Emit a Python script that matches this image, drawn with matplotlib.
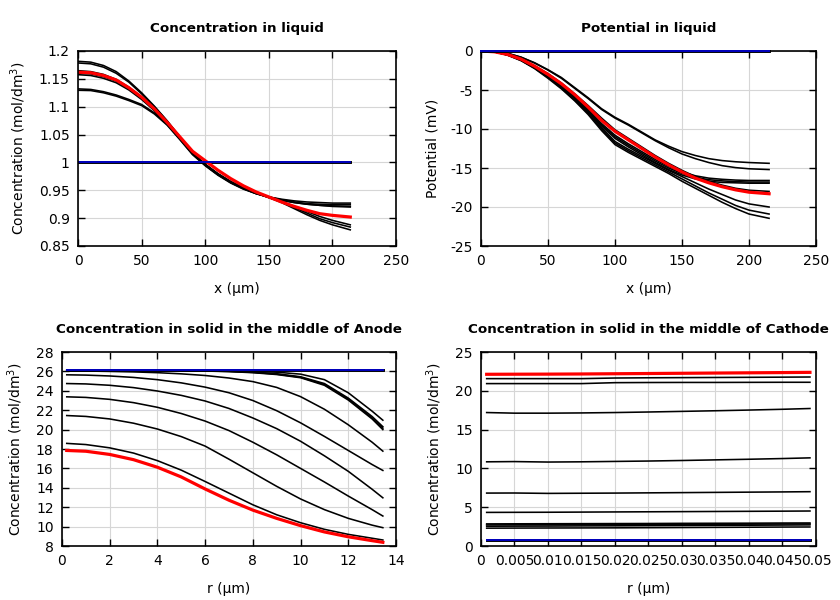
import matplotlib
matplotlib.use("Agg")
import matplotlib.pyplot as plt
from matplotlib.ticker import FuncFormatter, MultipleLocator

plt.rcParams['font.family'] = ['DejaVu Sans']

# ---------------- Concentration in liquid ----------------
x_liq = [0, 10, 20, 30, 40, 50, 60, 70, 80, 90, 100, 110, 120, 130, 140, 150, 160, 170, 180, 190, 200, 214]
x_liq_init = [0, 214]
c_liq_init = [1.0, 1.0]
c_liq_1 = [1.1815, 1.180, 1.174, 1.163, 1.146, 1.125, 1.101, 1.075, 1.046, 1.017, 0.995, 0.978, 0.964, 0.953, 0.944, 0.937, 0.928, 0.917, 0.906, 0.896, 0.888, 0.879]
c_liq_2 = [1.1785, 1.177, 1.171, 1.160, 1.144, 1.123, 1.100, 1.074, 1.046, 1.017, 0.996, 0.979, 0.965, 0.954, 0.945, 0.937, 0.929, 0.919, 0.909, 0.899, 0.892, 0.884]
c_liq_3 = [1.1647, 1.163, 1.158, 1.149, 1.135, 1.117, 1.095, 1.070, 1.043, 1.016, 0.996, 0.979, 0.965, 0.954, 0.945, 0.937, 0.930, 0.921, 0.912, 0.903, 0.896, 0.888]
c_liq_4 = [1.1575, 1.156, 1.151, 1.143, 1.130, 1.113, 1.093, 1.069, 1.043, 1.016, 0.996, 0.979, 0.965, 0.954, 0.945, 0.938, 0.932, 0.928, 0.925, 0.923, 0.922, 0.921]
c_liq_5 = [1.160, 1.159, 1.154, 1.146, 1.132, 1.115, 1.094, 1.070, 1.044, 1.017, 0.997, 0.980, 0.966, 0.955, 0.946, 0.938, 0.932, 0.928, 0.925, 0.923, 0.921, 0.920]
c_liq_6 = [1.132, 1.131, 1.127, 1.121, 1.113, 1.104, 1.089, 1.068, 1.042, 1.015, 0.995, 0.978, 0.964, 0.953, 0.944, 0.938, 0.934, 0.931, 0.929, 0.928, 0.927, 0.927]
c_liq_7 = [1.1295, 1.129, 1.125, 1.119, 1.111, 1.102, 1.087, 1.067, 1.041, 1.014, 0.994, 0.977, 0.963, 0.952, 0.944, 0.938, 0.933, 0.929, 0.926, 0.925, 0.924, 0.924]
c_liq_final = [1.162, 1.161, 1.156, 1.148, 1.134, 1.117, 1.096, 1.072, 1.046, 1.020, 1.003, 0.986, 0.971, 0.958, 0.947, 0.938, 0.929, 0.921, 0.914, 0.908, 0.905, 0.902]

# ---------------- Potential in liquid ----------------
x_pot = [0, 10, 20, 30, 40, 50, 60, 70, 80, 90, 100, 110, 120, 130, 140, 150, 160, 170, 180, 190, 200, 215]
x_pot_init = [0, 215]
p_init = [0.0, 0.0]
p_1 = [0, -0.05, -0.3, -0.8, -1.5, -2.4, -3.4, -4.7, -6.0, -7.4, -8.5, -9.4, -10.4, -11.4, -12.2, -12.9, -13.4, -13.8, -14.05, -14.2, -14.3, -14.4]
p_2 = [0, -0.05, -0.3, -0.8, -1.55, -2.45, -3.5, -4.8, -6.1, -7.5, -8.6, -9.5, -10.5, -11.5, -12.4, -13.2, -13.8, -14.3, -14.7, -14.95, -15.1, -15.2]
p_3 = [0, -0.1, -0.4, -1.0, -1.9, -2.9, -4.1, -5.5, -7.0, -8.6, -10.1, -11.2, -12.3, -13.4, -14.4, -15.3, -16.1, -16.7, -17.2, -17.6, -17.85, -18.0]
p_4 = [0, -0.1, -0.5, -1.1, -2.05, -3.15, -4.4, -5.85, -7.5, -9.3, -10.8, -11.9, -12.9, -13.9, -14.8, -15.5, -16.0, -16.3, -16.45, -16.55, -16.6, -16.6]
p_5 = [0, -0.1, -0.5, -1.15, -2.1, -3.2, -4.5, -5.95, -7.6, -9.45, -11.0, -12.1, -13.1, -14.1, -15.0, -15.7, -16.2, -16.5, -16.65, -16.75, -16.8, -16.8]
p_6 = [0, -0.1, -0.5, -1.15, -2.15, -3.25, -4.55, -6.05, -7.7, -9.6, -11.2, -12.3, -13.3, -14.3, -15.2, -15.9, -16.4, -16.7, -16.85, -16.9, -16.95, -16.95]
p_7 = [0, -0.1, -0.5, -1.2, -2.15, -3.3, -4.6, -6.1, -7.8, -9.8, -11.6, -12.6, -13.5, -14.4, -15.3, -16.1, -16.9, -17.7, -18.4, -19.1, -19.6, -20.0]
p_8 = [0, -0.1, -0.5, -1.2, -2.2, -3.4, -4.75, -6.3, -8.0, -10.0, -11.8, -12.8, -13.7, -14.6, -15.5, -16.4, -17.3, -18.2, -19.0, -19.8, -20.4, -20.9]
p_9 = [0, -0.1, -0.55, -1.25, -2.25, -3.5, -4.85, -6.4, -8.15, -10.2, -12.0, -13.0, -13.9, -14.8, -15.7, -16.7, -17.6, -18.5, -19.4, -20.2, -20.9, -21.45]
p_final = [0, -0.1, -0.45, -1.05, -1.95, -3.0, -4.2, -5.6, -7.2, -8.9, -10.3, -11.4, -12.5, -13.6, -14.6, -15.5, -16.3, -16.9, -17.4, -17.8, -18.1, -18.3]

# ---------------- Solid, anode ----------------
r_an = [0.2, 1, 2, 3, 4, 5, 6, 7, 8, 9, 10, 11, 12, 13, 13.45]
r_an_init = [0.2, 13.45]
a_init = [26.1, 26.1]
a_1 = [26.1, 26.1, 26.1, 26.1, 26.1, 26.1, 26.08, 26.05, 26.0, 25.92, 25.72, 25.15, 23.8, 21.9, 20.97]
a_2 = [26.1, 26.1, 26.1, 26.1, 26.1, 26.1, 26.06, 26.02, 25.93, 25.76, 25.45, 24.75, 23.25, 21.35, 20.3]
a_3 = [26.1, 26.1, 26.1, 26.1, 26.1, 26.09, 26.05, 26.0, 25.9, 25.72, 25.4, 24.65, 23.15, 21.2, 20.15]
a_4 = [26.1, 26.1, 26.1, 26.1, 26.1, 26.08, 26.04, 25.98, 25.87, 25.68, 25.35, 24.57, 23.05, 21.1, 20.0]
a_5 = [26.05, 26.04, 26.0, 25.95, 25.87, 25.75, 25.58, 25.32, 24.95, 24.35, 23.4, 22.1, 20.5, 18.7, 17.78]
a_6 = [25.65, 25.62, 25.53, 25.38, 25.15, 24.82, 24.38, 23.8, 23.0, 21.95, 20.7, 19.3, 17.85, 16.4, 15.79]
a_7 = [24.75, 24.71, 24.57, 24.33, 23.98, 23.53, 22.95, 22.18, 21.2, 20.1, 18.8, 17.3, 15.7, 13.85, 12.97]
a_8 = [23.38, 23.32, 23.12, 22.78, 22.3, 21.66, 20.88, 19.9, 18.7, 17.4, 16.0, 14.6, 13.15, 11.75, 11.09]
a_9 = [21.45, 21.36, 21.1, 20.66, 20.06, 19.28, 18.3, 16.95, 15.55, 14.15, 12.85, 11.75, 10.85, 10.15, 9.89]
a_10 = [18.58, 18.46, 18.12, 17.58, 16.8, 15.82, 14.65, 13.45, 12.25, 11.22, 10.4, 9.72, 9.2, 8.8, 8.62]
a_final = [17.85, 17.77, 17.44, 16.9, 16.12, 15.12, 13.88, 12.72, 11.7, 10.85, 10.1, 9.45, 8.95, 8.55, 8.38]

# ---------------- Solid, cathode ----------------
r_ca = [0.00085, 0.005, 0.01, 0.015, 0.02, 0.025, 0.03, 0.035, 0.04, 0.045, 0.0491]
r_ca_init = [0.00085, 0.0491]
k_init = [0.72, 0.72]
k_1 = [21.57, 21.57, 21.57, 21.57, 21.65, 21.68, 21.70, 21.72, 21.74, 21.76, 21.78]
k_2 = [20.93, 20.93, 20.93, 20.93, 21.05, 21.07, 21.08, 21.08, 21.09, 21.10, 21.10]
k_3 = [17.2, 17.12, 17.12, 17.15, 17.2, 17.27, 17.35, 17.43, 17.52, 17.62, 17.72]
k_4 = [10.85, 10.88, 10.82, 10.85, 10.9, 10.95, 11.02, 11.1, 11.18, 11.27, 11.36]
k_5 = [6.82, 6.83, 6.78, 6.8, 6.82, 6.85, 6.88, 6.91, 6.94, 6.97, 7.0]
k_6 = [4.33, 4.34, 4.35, 4.37, 4.39, 4.41, 4.43, 4.45, 4.47, 4.49, 4.51]
k_7 = [2.85, 2.86, 2.87, 2.88, 2.89, 2.9, 2.92, 2.93, 2.94, 2.96, 2.97]
k_8 = [2.72, 2.73, 2.74, 2.75, 2.76, 2.77, 2.79, 2.8, 2.82, 2.84, 2.85]
k_9 = [2.55, 2.56, 2.57, 2.59, 2.6, 2.62, 2.64, 2.66, 2.68, 2.7, 2.72]
k_10 = [2.3, 2.31, 2.32, 2.33, 2.34, 2.36, 2.38, 2.4, 2.42, 2.44, 2.45]
k_final = [22.13, 22.14, 22.15, 22.17, 22.2, 22.23, 22.26, 22.29, 22.32, 22.35, 22.38]

BLACK_LW = 1.15
RED_LW = 2.3
RED = '#ff0000'
BLUE = '#0000c0'


def g_fmt(v, pos):
    return '{:g}'.format(round(v, 6))


def style(ax, title, xlabel, ylabel):
    ax.set_title(title, fontsize=9.7, fontweight='bold', pad=14)
    ax.set_xlabel(xlabel, fontsize=10, labelpad=10)
    ax.set_ylabel(ylabel, fontsize=10, labelpad=8)
    ax.grid(True, color='#d6d6d6', linewidth=0.8)
    ax.set_axisbelow(True)
    ax.tick_params(direction='in', top=True, right=True, length=5, width=1.0,
                   labelsize=10, pad=6)
    ax.xaxis.set_major_formatter(FuncFormatter(g_fmt))
    ax.yaxis.set_major_formatter(FuncFormatter(g_fmt))
    for s in ax.spines.values():
        s.set_linewidth(1.2)


def flat(ax, x, y, on_top=False):
    z = 3.5 if on_top else 2
    ax.plot(x, y, color='black', lw=2.1, zorder=z, clip_on=not on_top)
    ax.plot(x, y, color=BLUE, lw=1.4, zorder=z + 0.01, clip_on=not on_top)


fig = plt.figure(figsize=(8.4, 6.0), dpi=100)
ax1 = fig.add_axes([0.0929, 0.590, 0.3786, 0.325])
ax2 = fig.add_axes([0.5726, 0.590, 0.3988, 0.325])
ax3 = fig.add_axes([0.0738, 0.090, 0.3976, 0.3233])
ax4 = fig.add_axes([0.5726, 0.090, 0.3988, 0.3233])

# Panel 1
for c in [c_liq_1, c_liq_2, c_liq_3, c_liq_4, c_liq_5, c_liq_6, c_liq_7]:
    ax1.plot(x_liq, c, color='black', lw=BLACK_LW)
flat(ax1, x_liq_init, c_liq_init)
ax1.plot(x_liq, c_liq_final, color=RED, lw=RED_LW)
ax1.set_xlim(0, 250)
ax1.set_ylim(0.85, 1.2)
ax1.xaxis.set_major_locator(MultipleLocator(50))
ax1.yaxis.set_major_locator(MultipleLocator(0.05))
style(ax1, 'Concentration in liquid', 'x (µm)', 'Concentration (mol/dm$^3$)')

# Panel 2
for p in [p_1, p_2, p_3, p_4, p_5, p_6, p_7, p_8, p_9]:
    ax2.plot(x_pot, p, color='black', lw=BLACK_LW)
ax2.plot(x_pot, p_final, color=RED, lw=RED_LW)
flat(ax2, x_pot_init, p_init, on_top=True)
ax2.set_xlim(0, 250)
ax2.set_ylim(-25, 0)
ax2.xaxis.set_major_locator(MultipleLocator(50))
ax2.yaxis.set_major_locator(MultipleLocator(5))
style(ax2, 'Potential in liquid', 'x (µm)', 'Potential (mV)')

# Panel 3
for a in [a_1, a_2, a_3, a_4, a_5, a_6, a_7, a_8, a_9, a_10]:
    ax3.plot(r_an, a, color='black', lw=BLACK_LW)
flat(ax3, r_an_init, a_init)
ax3.plot(r_an, a_final, color=RED, lw=RED_LW)
ax3.set_xlim(0, 14)
ax3.set_ylim(8, 28)
ax3.xaxis.set_major_locator(MultipleLocator(2))
ax3.yaxis.set_major_locator(MultipleLocator(2))
style(ax3, 'Concentration in solid in the middle of Anode', 'r (µm)', 'Concentration (mol/dm$^3$)')

# Panel 4
for k in [k_1, k_2, k_3, k_4, k_5, k_6, k_7, k_8, k_9, k_10]:
    ax4.plot(r_ca, k, color='black', lw=BLACK_LW)
flat(ax4, r_ca_init, k_init)
ax4.plot(r_ca, k_final, color=RED, lw=RED_LW)
ax4.set_xlim(0, 0.05)
ax4.set_ylim(0, 25)
ax4.xaxis.set_major_locator(MultipleLocator(0.005))
ax4.yaxis.set_major_locator(MultipleLocator(5))
style(ax4, 'Concentration in solid in the middle of Cathode', 'r (µm)', 'Concentration (mol/dm$^3$)')

fig.savefig('out.png', dpi=100)
